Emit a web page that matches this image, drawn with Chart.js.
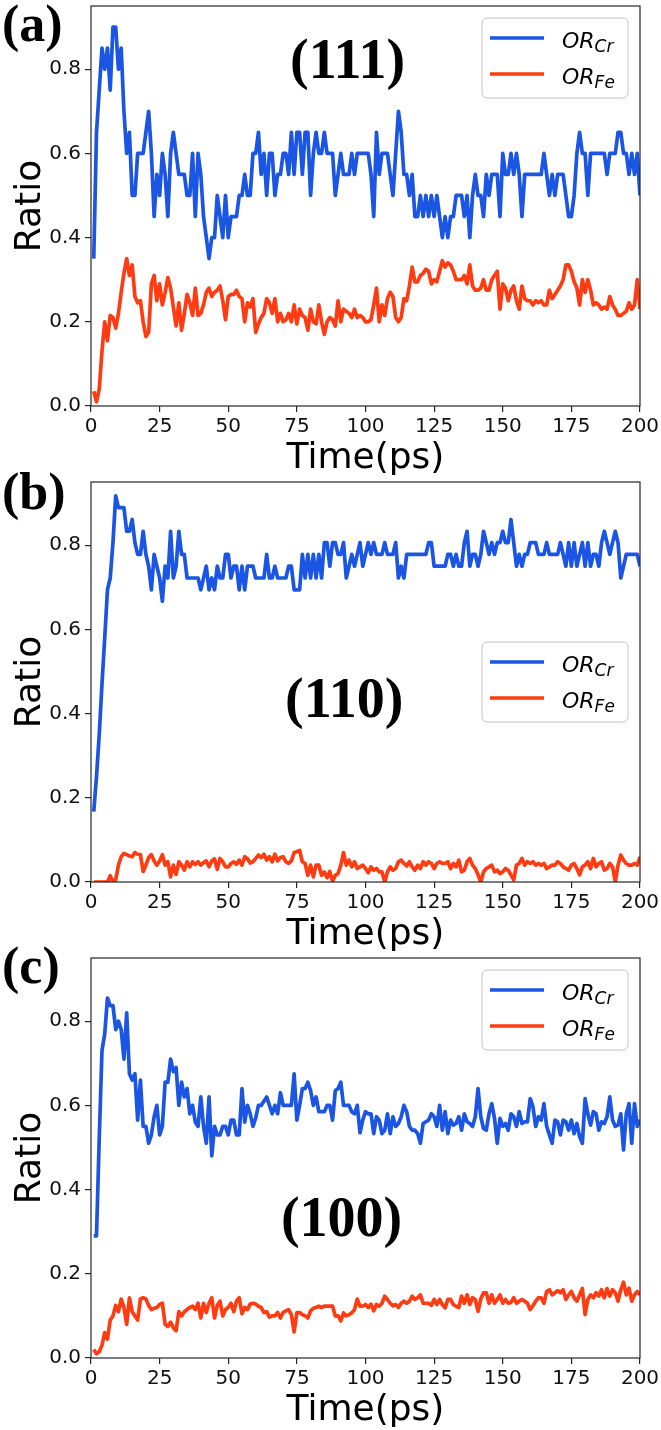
<!DOCTYPE html>
<html>
<head>
<meta charset="utf-8">
<script src="https://cdn.jsdelivr.net/npm/chart.js@4.4.0/dist/chart.umd.min.js"></script>
<style>
  body { margin: 0; background: #fff; width: 661px; height: 1430px; position: relative; overflow: hidden; }
  .panel { position: absolute; left: 0; width: 661px; height: 476px; }
  .tag { position: absolute; left: 2px; font: bold 52px "Liberation Serif", serif; line-height: 52px; color: #000; }
</style>
</head>
<body>
<div class="panel" style="top:0px"><canvas id="chartA" width="661" height="476"></canvas></div>
<div class="panel" style="top:476px"><canvas id="chartB" width="661" height="476"></canvas></div>
<div class="panel" style="top:952px"><canvas id="chartC" width="661" height="476"></canvas></div>
<div class="tag" style="top:-2px">(a)</div>
<div class="tag" style="top:466px">(b)</div>
<div class="tag" style="top:940px">(c)</div>
<script>
// sampling grid: one frame per ps
const timePs = Array.from({ length: 200 }, (_, i) => i + 1);
const yTicks = [0, 0.2, 0.4, 0.6, 0.8];

// (a) (111) surface
const crA = [
  0.35,0.65,0.75,0.85,0.8,0.85,0.75,0.9,0.9,0.8,
  0.85,0.7,0.6,0.65,0.5,0.5,0.6,0.6,0.6,0.65,
  0.7,0.6,0.45,0.55,0.5,0.6,0.55,0.45,0.6,0.65,
  0.6,0.55,0.55,0.55,0.5,0.5,0.6,0.45,0.6,0.55,
  0.45,0.4,0.35,0.4,0.4,0.5,0.45,0.4,0.5,0.4,
  0.45,0.45,0.45,0.5,0.5,0.55,0.5,0.5,0.6,0.6,
  0.65,0.55,0.6,0.5,0.6,0.6,0.5,0.55,0.55,0.6,
  0.6,0.55,0.65,0.55,0.65,0.65,0.55,0.65,0.65,0.5,
  0.6,0.65,0.6,0.6,0.65,0.6,0.6,0.6,0.5,0.55,
  0.6,0.55,0.55,0.55,0.6,0.55,0.6,0.6,0.6,0.6,
  0.6,0.55,0.45,0.65,0.55,0.6,0.6,0.6,0.55,0.5,
  0.6,0.7,0.65,0.55,0.55,0.5,0.55,0.45,0.45,0.5,
  0.45,0.5,0.45,0.5,0.45,0.5,0.45,0.4,0.45,0.4,
  0.45,0.45,0.5,0.5,0.5,0.45,0.5,0.4,0.5,0.55,
  0.5,0.5,0.45,0.55,0.5,0.55,0.55,0.55,0.45,0.6,
  0.55,0.55,0.6,0.55,0.6,0.55,0.45,0.55,0.55,0.55,
  0.55,0.55,0.55,0.55,0.6,0.55,0.5,0.55,0.5,0.55,
  0.55,0.55,0.5,0.45,0.45,0.5,0.6,0.65,0.6,0.6,
  0.5,0.6,0.6,0.6,0.6,0.6,0.6,0.55,0.6,0.6,
  0.6,0.65,0.65,0.6,0.6,0.55,0.6,0.55,0.6,0.5
];
const feA = [
  0.035,0.01,0.04,0.13,0.2,0.155,0.215,0.21,0.185,0.22,
  0.27,0.315,0.35,0.31,0.335,0.26,0.245,0.25,0.2,0.165,
  0.175,0.29,0.31,0.25,0.29,0.24,0.27,0.305,0.28,0.235,
  0.19,0.245,0.18,0.22,0.265,0.245,0.215,0.28,0.215,0.22,
  0.24,0.27,0.28,0.26,0.27,0.275,0.285,0.25,0.205,0.26,
  0.265,0.265,0.275,0.26,0.255,0.2,0.245,0.235,0.255,0.175,
  0.195,0.21,0.22,0.255,0.245,0.22,0.255,0.2,0.22,0.2,
  0.205,0.22,0.2,0.24,0.195,0.23,0.215,0.21,0.18,0.23,
  0.2,0.195,0.24,0.2,0.17,0.2,0.21,0.205,0.19,0.25,
  0.2,0.23,0.225,0.22,0.21,0.23,0.21,0.215,0.21,0.2,
  0.2,0.205,0.24,0.28,0.2,0.24,0.215,0.255,0.27,0.26,
  0.21,0.2,0.21,0.255,0.25,0.285,0.33,0.295,0.295,0.31,
  0.315,0.325,0.32,0.29,0.3,0.295,0.32,0.345,0.33,0.34,
  0.335,0.32,0.3,0.3,0.3,0.31,0.29,0.335,0.285,0.275,
  0.275,0.28,0.3,0.275,0.275,0.3,0.31,0.32,0.23,0.29,
  0.28,0.25,0.275,0.285,0.25,0.23,0.285,0.255,0.25,0.25,
  0.24,0.25,0.245,0.25,0.24,0.24,0.275,0.255,0.265,0.275,
  0.285,0.3,0.335,0.335,0.32,0.295,0.28,0.24,0.3,0.27,
  0.3,0.275,0.24,0.245,0.24,0.23,0.235,0.23,0.26,0.24,
  0.23,0.215,0.215,0.22,0.225,0.245,0.23,0.24,0.3,0.23
];

// (b) (110) surface
const crB = [
  0.167,0.25,0.35,0.47,0.58,0.694,0.722,0.806,0.917,0.889,
  0.889,0.889,0.833,0.833,0.861,0.806,0.778,0.778,0.833,0.778,
  0.75,0.694,0.778,0.75,0.722,0.667,0.75,0.722,0.833,0.722,
  0.75,0.833,0.778,0.778,0.722,0.722,0.722,0.722,0.722,0.694,
  0.722,0.75,0.694,0.722,0.694,0.75,0.722,0.722,0.778,0.778,
  0.722,0.75,0.75,0.694,0.75,0.694,0.75,0.75,0.75,0.722,
  0.722,0.722,0.722,0.778,0.722,0.722,0.75,0.722,0.722,0.722,
  0.722,0.75,0.75,0.694,0.694,0.694,0.778,0.722,0.778,0.722,
  0.778,0.722,0.778,0.722,0.806,0.806,0.75,0.806,0.806,0.778,
  0.778,0.806,0.722,0.75,0.778,0.75,0.778,0.806,0.75,0.778,
  0.806,0.778,0.806,0.778,0.778,0.778,0.806,0.778,0.778,0.778,
  0.806,0.722,0.75,0.722,0.778,0.778,0.778,0.778,0.778,0.778,
  0.778,0.778,0.806,0.806,0.75,0.75,0.75,0.75,0.75,0.778,
  0.778,0.75,0.778,0.75,0.75,0.806,0.833,0.75,0.778,0.778,
  0.75,0.778,0.833,0.806,0.778,0.806,0.778,0.806,0.806,0.833,
  0.806,0.806,0.861,0.806,0.75,0.778,0.75,0.778,0.778,0.806,
  0.806,0.806,0.778,0.778,0.778,0.806,0.778,0.778,0.778,0.778,
  0.806,0.778,0.75,0.806,0.75,0.806,0.75,0.778,0.806,0.75,
  0.806,0.75,0.778,0.778,0.75,0.806,0.833,0.806,0.778,0.806,
  0.833,0.806,0.722,0.75,0.778,0.778,0.778,0.778,0.778,0.75
];
const feB = [
  0,0,0,0,0,0,0.015,0,0.005,0.04,
  0.06,0.068,0.065,0.062,0.06,0.07,0.066,0.065,0.025,0.04,
  0.058,0.065,0.05,0.04,0.05,0.065,0.04,0.048,0.012,0.04,
  0.018,0.048,0.04,0.028,0.048,0.036,0.048,0.042,0.048,0.04,
  0.046,0.05,0.036,0.05,0.055,0.03,0.056,0.048,0.036,0.036,
  0.044,0.048,0.042,0.052,0.04,0.06,0.055,0.045,0.048,0.056,
  0.064,0.058,0.066,0.052,0.06,0.048,0.066,0.05,0.058,0.06,
  0.048,0.044,0.05,0.07,0.072,0.075,0.048,0.044,0.016,0.04,
  0.012,0.04,0.04,0.016,0.024,0.01,0.025,0.002,0.016,0.02,
  0.04,0.07,0.04,0.052,0.036,0.048,0.032,0.036,0.04,0.032,
  0.022,0.036,0.028,0.032,0.024,0.024,0,0.024,0.036,0.028,
  0.032,0.048,0.052,0.044,0.038,0.048,0.036,0.028,0.04,0.032,
  0.048,0.04,0.048,0.044,0.032,0.044,0.048,0.044,0.044,0.048,
  0.032,0.044,0.036,0.052,0.024,0.028,0.048,0.056,0.04,0.032,
  0.017,0,0.024,0.032,0.036,0.04,0.024,0.028,0.02,0.024,
  0.032,0.028,0.017,0.005,0.04,0.044,0.056,0.04,0.048,0.044,
  0.048,0.04,0.044,0.04,0.044,0.032,0.036,0.04,0.04,0.048,
  0.044,0.036,0.032,0.028,0.04,0.044,0.032,0.017,0.036,0.04,
  0.048,0.032,0.056,0.036,0.044,0.048,0.028,0.032,0.044,0.036,
  0,0.04,0.064,0.052,0.044,0.04,0.04,0.044,0.04,0.06
];

// (c) (100) surface
const crC = [
  0.29,0.29,0.52,0.73,0.77,0.855,0.837,0.837,0.78,0.8,
  0.78,0.71,0.82,0.675,0.66,0.675,0.565,0.66,0.55,0.55,
  0.51,0.53,0.573,0.6,0.53,0.55,0.655,0.655,0.71,0.68,
  0.69,0.6,0.655,0.62,0.64,0.58,0.6,0.56,0.55,0.62,
  0.55,0.51,0.62,0.48,0.55,0.53,0.53,0.55,0.55,0.53,
  0.565,0.565,0.53,0.53,0.64,0.56,0.6,0.58,0.55,0.57,
  0.6,0.6,0.61,0.62,0.6,0.58,0.6,0.58,0.63,0.6,
  0.6,0.6,0.6,0.675,0.565,0.6,0.64,0.64,0.655,0.635,
  0.6,0.62,0.585,0.585,0.585,0.6,0.6,0.565,0.635,0.64,
  0.655,0.6,0.6,0.6,0.585,0.58,0.6,0.535,0.565,0.585,
  0.58,0.58,0.533,0.573,0.565,0.533,0.541,0.58,0.533,0.573,
  0.55,0.557,0.573,0.6,0.585,0.55,0.541,0.541,0.533,0.51,
  0.557,0.561,0.565,0.58,0.573,0.55,0.6,0.541,0.585,0.533,
  0.565,0.553,0.557,0.573,0.541,0.58,0.561,0.557,0.55,0.573,
  0.64,0.573,0.545,0.541,0.58,0.604,0.569,0.51,0.569,0.55,
  0.557,0.541,0.58,0.573,0.55,0.585,0.557,0.561,0.561,0.616,
  0.597,0.55,0.573,0.565,0.604,0.55,0.53,0.51,0.565,0.561,
  0.53,0.565,0.561,0.541,0.565,0.533,0.557,0.526,0.51,0.616,
  0.58,0.553,0.585,0.58,0.541,0.561,0.557,0.573,0.62,0.565,
  0.55,0.553,0.58,0.494,0.58,0.604,0.51,0.604,0.55,0.565
];
const feC = [
  0.02,0.01,0.015,0.03,0.06,0.045,0.09,0.1,0.125,0.11,
  0.14,0.12,0.08,0.143,0.11,0.1,0.09,0.14,0.143,0.14,
  0.125,0.115,0.118,0.12,0.127,0.13,0.08,0.075,0.085,0.072,
  0.065,0.11,0.1,0.11,0.115,0.12,0.123,0.115,0.13,0.095,
  0.13,0.108,0.13,0.143,0.095,0.125,0.135,0.1,0.115,0.12,
  0.13,0.11,0.135,0.143,0.105,0.12,0.115,0.128,0.13,0.128,
  0.123,0.12,0.108,0.11,0.097,0.1,0.1,0.108,0.095,0.108,
  0.112,0.115,0.103,0.062,0.108,0.108,0.103,0.1,0.095,0.112,
  0.118,0.12,0.123,0.12,0.123,0.123,0.123,0.123,0.1,0.1,
  0.088,0.107,0.1,0.103,0.107,0.115,0.14,0.123,0.123,0.127,
  0.12,0.128,0.112,0.127,0.123,0.13,0.147,0.139,0.13,0.124,
  0.127,0.12,0.13,0.135,0.13,0.135,0.147,0.139,0.143,0.15,
  0.13,0.13,0.13,0.125,0.139,0.127,0.139,0.127,0.119,0.139,
  0.139,0.127,0.123,0.12,0.147,0.13,0.15,0.127,0.143,0.139,
  0.111,0.14,0.155,0.155,0.13,0.15,0.13,0.139,0.15,0.13,
  0.139,0.13,0.132,0.143,0.13,0.135,0.139,0.135,0.13,0.115,
  0.124,0.135,0.143,0.143,0.13,0.158,0.162,0.15,0.155,0.16,
  0.155,0.162,0.139,0.15,0.158,0.143,0.135,0.15,0.165,0.103,
  0.139,0.15,0.143,0.155,0.147,0.162,0.143,0.165,0.147,0.162,
  0.155,0.135,0.162,0.18,0.15,0.166,0.135,0.15,0.158,0.15
];

const crColor = "#1a55e3";
const feColor = "#ff3b12";
const lineW = 3.7;

// frame, facet label and the matplotlib-like legend with subscripts
const decorPlugin = {
  id: "decor",
  afterDatasetsDraw(chart, args, opts) {
    const ctx = chart.ctx;
    const area = chart.chartArea;
    const xs = chart.scales.x, ys = chart.scales.y;

    ctx.save();
    ctx.fillStyle = "#000";
    ctx.font = 'bold 56px "Liberation Serif", serif';
    ctx.textBaseline = "alphabetic";
    ctx.textAlign = "left";
    ctx.fillText(opts.facet, xs.getPixelForValue(opts.facetAt[0]), ys.getPixelForValue(opts.facetAt[1]));

    // legend
    const boxW = 146, boxH = 80;
    const bx = area.right - 12 - boxW;
    const by = opts.legend === "upper" ? area.top + 12 : (area.top + area.bottom) / 2 - boxH / 2;
    ctx.beginPath();
    ctx.roundRect(bx, by, boxW, boxH, 5);
    ctx.fillStyle = "rgba(255,255,255,0.8)";
    ctx.fill();
    ctx.strokeStyle = "#c4c4c4";
    ctx.lineWidth = 1;
    ctx.stroke();
    chart.data.datasets.forEach((ds, i) => {
      const ly = by + 20 + i * 36;
      ctx.beginPath();
      ctx.moveTo(bx + 8, ly);
      ctx.lineTo(bx + 62, ly);
      ctx.strokeStyle = ds.borderColor;
      ctx.lineWidth = lineW;
      ctx.stroke();
      ctx.fillStyle = "#000";
      ctx.font = 'italic 22px "DejaVu Sans"';
      ctx.fillText(ds.mainLabel, bx + 80, ly + 10);
      const w = ctx.measureText(ds.mainLabel).width;
      ctx.font = 'italic 17px "DejaVu Sans"';
      ctx.fillText(ds.subLabel, bx + 80 + w, ly + 14);
    });

    // axes frame on all four sides
    ctx.strokeStyle = "#262626";
    ctx.lineWidth = 1.2;
    ctx.strokeRect(area.left, area.top, area.right - area.left, area.bottom - area.top);
    ctx.restore();
  }
};

function makePanel(id, cr, fe, facet, facetAt, legend) {
  const tickFont = { family: "DejaVu Sans", size: 20 };
  new Chart(document.getElementById(id), {
    type: "line",
    data: {
      datasets: [
        { label: "OR_Cr", mainLabel: "OR", subLabel: "Cr", data: timePs.map((t, i) => ({ x: t, y: cr[i] })),
          borderColor: crColor, borderWidth: lineW, pointRadius: 0, tension: 0, borderJoinStyle: "round" },
        { label: "OR_Fe", mainLabel: "OR", subLabel: "Fe", data: timePs.map((t, i) => ({ x: t, y: fe[i] })),
          borderColor: feColor, borderWidth: lineW, pointRadius: 0, tension: 0, borderJoinStyle: "round" }
      ]
    },
    options: {
      responsive: false,
      animation: false,
      events: [],
      layout: { padding: { left: 0, right: 21, top: 6, bottom: 0 } },
      plugins: {
        legend: { display: false },
        tooltip: { enabled: false },
        decor: { facet: facet, facetAt: facetAt, legend: legend }
      },
      scales: {
        x: {
          type: "linear", min: 0, max: 200,
          ticks: { stepSize: 25, font: tickFont, color: "#111", padding: 3, maxRotation: 0, autoSkip: false },
          grid: { drawOnChartArea: false, drawTicks: true, tickLength: 6, color: "#262626", lineWidth: 1.2 },
          border: { display: false },
          title: { display: true, text: "Time(ps)", color: "#000",
                   font: { family: "DejaVu Sans", size: 36, lineHeight: 1 }, padding: { top: 0, bottom: -1 } },
          afterFit: s => { s.height = 70; s.paddingLeft = 0; s.paddingRight = 0; }
        },
        y: {
          type: "linear", min: 0, max: 0.95,
          afterBuildTicks: s => { s.ticks = yTicks.map(v => ({ value: v })); },
          ticks: { font: tickFont, color: "#111", padding: 4, callback: v => v.toFixed(1) },
          grid: { drawOnChartArea: false, drawTicks: true, tickLength: 6, color: "#262626", lineWidth: 1.2 },
          border: { display: false },
          title: { display: true, text: "Ratio", color: "#000",
                   font: { family: "DejaVu Sans", size: 36, lineHeight: 1 }, padding: { top: 13, bottom: 0 } },
          afterFit: s => { s.width = 91; s.paddingTop = 0; s.paddingBottom = 0; }
        }
      }
    },
    plugins: [decorPlugin]
  });
}

makePanel("chartA", crA, feA, "(111)", [72.5, 0.78], "upper");
makePanel("chartB", crB, feB, "(110)", [70.7, 0.393], "center");
makePanel("chartC", crC, feC, "(100)", [69.2, 0.29], "upper");
</script>
</body>
</html>
